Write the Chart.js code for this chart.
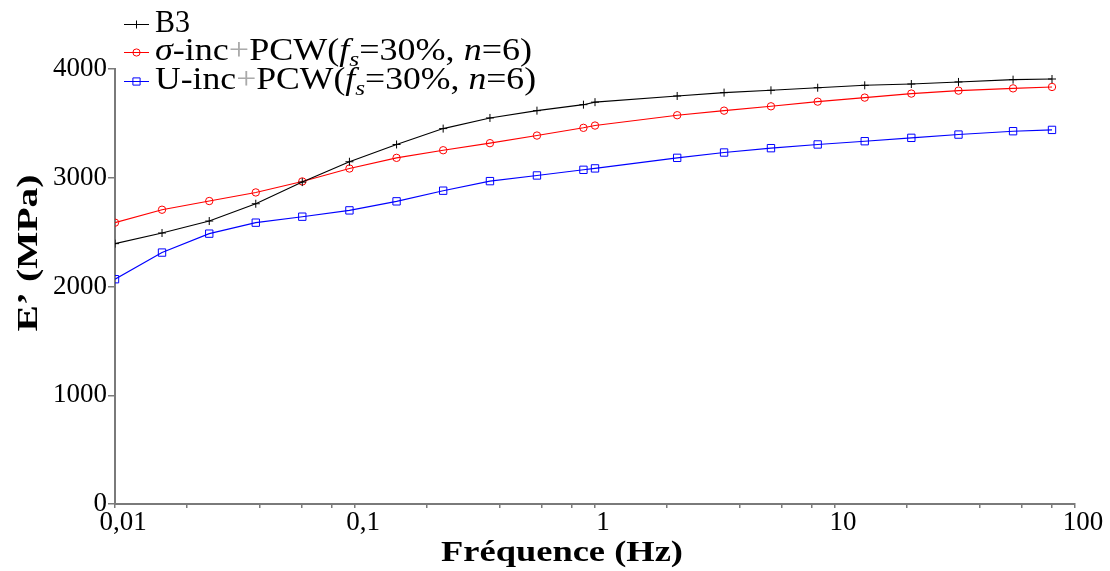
<!DOCTYPE html>
<html><head><meta charset="utf-8">
<script src="https://cdn.jsdelivr.net/npm/chart.js@4/dist/chart.umd.min.js"></script>
<style>html,body{margin:0;padding:0;background:#fff}#wrap{width:1110px;height:571px}</style>
</head><body><div id="wrap"><canvas id="c" width="1110" height="571"></canvas></div>
<script>
const frequencies = [0.01,0.0157,0.0247,0.0386,0.0603,0.0948,0.149,0.233,0.365,0.573,0.895,1.0,2.2,3.45,5.41,8.47,13.3,20.8,32.7,55.2,80.2];
const b3 = [2394,2492,2602,2761,2960,3147,3306,3452,3550,3617,3672,3695,3752,3783,3804,3828,3850,3862,3881,3902,3908];
const sigmaInc = [2587,2706,2786,2865,2966,3085,3183,3253,3318,3388,3459,3480,3575,3617,3657,3700,3737,3774,3801,3822,3835];
const uInc = [2067,2312,2486,2587,2642,2700,2783,2881,2969,3021,3073,3086,3183,3232,3272,3306,3336,3367,3397,3428,3440];
const xMajorTicks = [0.01,0.1,1,10,100];
const xMinorMultipliers = [2,4,6,8];
const xTickLabels = ['0,01','0,1','1','10','100'];
const yTicks = [0,1000,2000,3000,4000];
const yTickLabels = ['0','1000','2000','3000','4000'];
const xTitle = 'Fréquence (Hz)';
const yTitle = 'E’ (MPa)';

const SERIF = '"Liberation Serif", "DejaVu Serif", serif';
const AXIS = '#7a7a7a';

function pts(ys){ return frequencies.map((f,i)=>({x:f,y:ys[i]})); }

const legendRows = [
  {color:'#000000', style:'cross', target:35, segs:[{t:'B3'}]},
  {color:'#ff0000', style:'circle', target:377, segs:[{t:'σ',it:1},{t:'-inc'},{t:'+',c:'#aaaaaa'},{t:'PCW('},{t:'f',it:1},{t:'s',it:1,sub:1},{t:'=30%, '},{t:'n',it:1},{t:'=6)'}]},
  {color:'#0000ff', style:'rect', target:381, segs:[{t:'U-inc'},{t:'+',c:'#aaaaaa'},{t:'PCW('},{t:'f',it:1},{t:'s',it:1,sub:1},{t:'=30%, '},{t:'n',it:1},{t:'=6)'}]}
];

function segFont(s,size){ return (s.it?'italic ':'') + (s.sub? Math.round(size*0.7): size) + 'px ' + SERIF; }
function measureRich(ctx,segs,size){ let w=0; for(const s of segs){ ctx.font=segFont(s,size); w+=ctx.measureText(s.t).width; } return w; }
function drawRich(ctx,segs,x,y,size,target){
  const w = measureRich(ctx,segs,size);
  const sx = target/w;
  ctx.save(); ctx.translate(x,y); ctx.scale(sx,1);
  ctx.textBaseline='alphabetic'; ctx.textAlign='left';
  let cx=0;
  for(const s of segs){ ctx.font=segFont(s,size); ctx.fillStyle=s.c||'#000'; ctx.fillText(s.t,cx,s.sub? size*0.2:0); cx+=ctx.measureText(s.t).width; }
  ctx.restore();
}
function drawMarker(ctx,style,x,y,color){
  ctx.save(); ctx.strokeStyle=color; ctx.lineWidth=1; ctx.beginPath();
  if(style==='cross'){ ctx.moveTo(x-4,y); ctx.lineTo(x+4,y); ctx.moveTo(x,y-4); ctx.lineTo(x,y+4); }
  else if(style==='circle'){ ctx.arc(x,y,3.6,0,Math.PI*2); }
  else { ctx.rect(x-3.6,y-3.6,7.2,7.2); }
  ctx.stroke(); ctx.restore();
}

const overlay = {
  id:'overlay',
  afterDraw(chart){
    const ctx = chart.ctx;
    const rowY = [24.5, 52.5, 81.5];
    legendRows.forEach((r,i)=>{
      const y=rowY[i];
      ctx.save(); ctx.strokeStyle=r.color; ctx.lineWidth=1; ctx.beginPath(); ctx.moveTo(124,y); ctx.lineTo(149,y); ctx.stroke(); ctx.restore();
      drawMarker(ctx,r.style,136.5,y,r.color);
      drawRich(ctx,r.segs,155,y+7.5,31,r.target);
    });
    // x title
    ctx.save();
    ctx.font='bold 30px '+SERIF;
    let w=ctx.measureText(xTitle).width;
    ctx.translate(562,561); ctx.scale(242/w,1);
    ctx.fillStyle='#000'; ctx.textAlign='center'; ctx.textBaseline='alphabetic';
    ctx.fillText(xTitle,0,0);
    ctx.restore();
    // y title
    ctx.save();
    ctx.font='bold 30px '+SERIF;
    w=ctx.measureText(yTitle).width;
    ctx.translate(29,253); ctx.rotate(-Math.PI/2); ctx.scale(157/w,1);
    ctx.fillStyle='#000'; ctx.textAlign='center'; ctx.textBaseline='middle';
    ctx.fillText(yTitle,0,0);
    ctx.restore();
  }
};

const xTickValues = [];
xMajorTicks.forEach((m,i)=>{ xTickValues.push(m); if(i<xMajorTicks.length-1) xMinorMultipliers.forEach(k=>xTickValues.push(+(m*k).toPrecision(3))); });

new Chart(document.getElementById('c'),{
  type:'line',
  data:{datasets:[
    {label:'B3', data:pts(b3), borderColor:'#000', backgroundColor:'rgba(0,0,0,0)', borderWidth:1.1, pointStyle:'cross', pointRadius:4, pointBorderWidth:1, pointBorderColor:'#000', tension:0},
    {label:'sigma', data:pts(sigmaInc), borderColor:'#ff0000', backgroundColor:'rgba(0,0,0,0)', borderWidth:1.1, pointStyle:'circle', pointRadius:3.7, pointBorderWidth:1, pointBorderColor:'#ff0000', tension:0},
    {label:'U', data:pts(uInc), borderColor:'#0000ff', backgroundColor:'rgba(0,0,0,0)', borderWidth:1.1, pointStyle:'rect', pointRadius:5.2, pointBorderWidth:1, pointBorderColor:'#0000ff', tension:0}
  ]},
  options:{
    responsive:false, devicePixelRatio:1, animation:false,
    layout:{padding:{top:69,right:35,bottom:0,left:0}},
    plugins:{legend:{display:false}, title:{display:false}, tooltip:{enabled:false}},
    scales:{
      x:{type:'logarithmic', min:0.01, max:100,
        afterBuildTicks(s){ s.ticks = xTickValues.map(v=>({value:v, major: xMajorTicks.includes(v)})); },
        afterFit(s){ s.height=67; s.paddingLeft=0; s.paddingRight=0; },
        ticks:{autoSkip:false, maxRotation:0, minRotation:0, padding:-1, labelOffset:8, color:'#000', font:{family:SERIF, size:27},
          callback(v){ const i=xMajorTicks.findIndex(m=>Math.abs(m-v)/m<1e-6); return i>=0? xTickLabels[i] : ''; }},
        grid:{display:true, drawOnChartArea:false, drawTicks:true, tickLength:4, color:AXIS, lineWidth:1.5},
        border:{display:true, color:AXIS, width:2}
      },
      y:{type:'linear', min:0, max:4000,
        afterBuildTicks(s){ s.ticks = yTicks.map(v=>({value:v})); },
        afterFit(s){ s.width=115; s.paddingTop=0; s.paddingBottom=0; },
        ticks:{padding:1, color:'#000', font:{family:SERIF, size:27},
          callback(v){ const i=yTicks.indexOf(v); return i>=0? yTickLabels[i] : ''; }},
        grid:{display:true, drawOnChartArea:false, drawTicks:true, tickLength:7, color:AXIS, lineWidth:1.5},
        border:{display:true, color:AXIS, width:2}
      }
    }
  },
  plugins:[overlay]
});
</script></body></html>
